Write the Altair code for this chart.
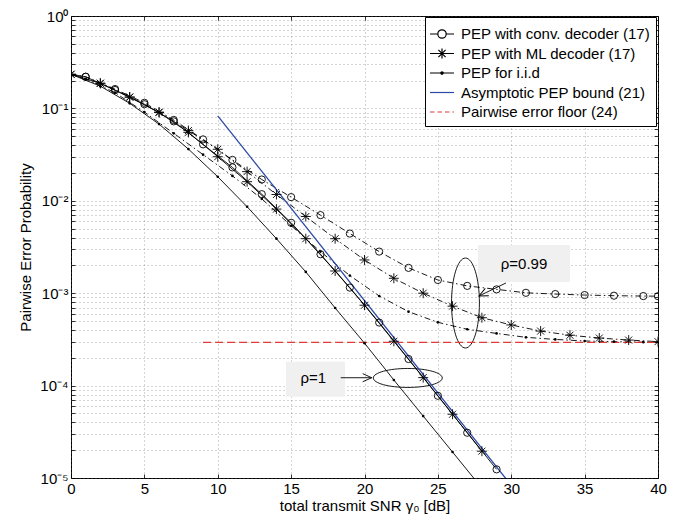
import altair as alt
import numpy as np
import pandas as pd

FONT = "Liberation Sans"
BLUE = "#2b4aa6"
RED = "#e03a3a"

# ---------------- values ----------------
# rho = 1 (solid curves)
conv1_x = [0, 1, 3, 5, 7, 9, 11, 13, 15, 17, 19, 21, 23, 25, 27, 29]
conv1_y = [0.234, 0.220, 0.158, 0.111, 0.0724, 0.0408, 0.0230, 0.0118, 0.00578,
           0.00264, 0.00115, 4.81e-4, 1.94e-4, 7.76e-5, 3.09e-5, 1.24e-5]
ml1_x = [0, 2, 4, 6, 8, 10, 12, 14, 16, 18, 20, 22, 24, 26, 28]
ml1_y = [0.234, 0.187, 0.132, 0.0902, 0.0550, 0.0300, 0.0161, 0.00813, 0.00389,
         0.00174, 7.41e-4, 3.02e-4, 1.22e-4, 4.90e-5, 1.95e-5]
iid1_x = [0, 2, 4, 6, 8, 10, 12, 14, 16, 18, 20, 22, 24, 26, 28]
iid1_y = [0.234, 0.174, 0.1135, 0.0676, 0.0363, 0.0182, 0.00863, 0.00389, 0.00170,
          6.92e-4, 2.88e-4, 1.15e-4, 4.68e-5, 1.91e-5, 7.76e-6]
# rho = 0.99 (dash-dot curves)
conv99_x = [0, 1, 3, 5, 7, 9, 11, 13, 15, 17, 19, 21, 23, 25, 27, 29, 31, 33, 35, 37, 39, 40]
conv99_y = [0.234, 0.220, 0.162, 0.115, 0.0750, 0.0462, 0.0277, 0.0170, 0.01096, 0.0070,
            0.00442, 0.00282, 0.00188, 0.00139, 0.00120, 0.00110, 0.00101, 9.79e-4,
            9.55e-4, 9.40e-4, 9.31e-4, 9.29e-4]
ml99_x = [0, 2, 4, 6, 8, 10, 12, 14, 16, 18, 20, 22, 24, 26, 28, 30, 32, 34, 36, 38, 40]
ml99_y = [0.234, 0.187, 0.133, 0.0912, 0.0575, 0.0361, 0.0207, 0.0117, 0.00676, 0.00389,
          0.00229, 0.00145, 0.00100, 7.24e-4, 5.43e-4, 4.53e-4, 3.89e-4, 3.51e-4,
          3.27e-4, 3.11e-4, 2.99e-4]
iid99_x = [0, 1, 3, 5, 7, 9, 11, 13, 15, 17, 19, 21, 23, 25, 27, 29, 31, 33, 35, 37, 39, 40]
iid99_y = [0.234, 0.209, 0.148, 0.0912, 0.0537, 0.0316, 0.0186, 0.0105, 0.00537, 0.00282,
           0.00155, 9.33e-4, 6.31e-4, 4.84e-4, 4.07e-4, 3.67e-4, 3.33e-4, 3.16e-4,
           3.04e-4, 2.99e-4, 2.95e-4, 2.94e-4]
bound_x = [10, 30]
bound_y = [0.0832, 8.32e-6]
floor_x = [9, 40]
floor_y = [2.94e-4, 2.94e-4]

legend_names = ["PEP with conv. decoder (17)", "PEP with ML decoder (17)", "PEP for i.i.d",
                "Asymptotic PEP bound (21)", "Pairwise error floor (24)"]

# annotations (data coordinates)
ann_labels = ["ρ=1", "ρ=0.99"]
ann_text_x = [16.51, 30.87]
ann_text_y = [1.22e-4, 2.07e-3]
box_x1 = [14.65, 27.73]
box_x2 = [18.67, 34.0]
box_y1 = [1.815e-4, 3.32e-3]
box_y2 = [7.59e-5, 1.32e-3]
ell_x = [22.95, 26.88]
ell_y = [1.21e-4, 7.83e-4]
arr_x1 = [18.38, 29.64]
arr_y1 = [1.217e-4, 1.29e-3]
arr_x2 = [20.49, 27.80]
arr_y2 = [1.217e-4, 9.33e-4]


def frame(xs, ys, name):
    return pd.DataFrame({"x": xs, "y": ys, "curve": name})


solid_df = pd.concat([frame(conv1_x, conv1_y, "conv1"), frame(ml1_x, ml1_y, "ml1"),
                      frame(iid1_x, iid1_y, "iid1")], ignore_index=True)
dashdot_df = pd.concat([frame(conv99_x, conv99_y, "conv99"), frame(ml99_x, ml99_y, "ml99"),
                        frame(iid99_x, iid99_y, "iid99")], ignore_index=True)

circ_df = pd.concat([
    frame([x for x in conv1_x if x % 2 == 1], [y for x, y in zip(conv1_x, conv1_y) if x % 2 == 1], "conv1"),
    frame([x for x in conv99_x if x % 2 == 1 or x == 40],
          [y for x, y in zip(conv99_x, conv99_y) if x % 2 == 1 or x == 40], "conv99"),
], ignore_index=True)
star_df = pd.concat([frame(ml1_x, ml1_y, "ml1"), frame(ml99_x, ml99_y, "ml99")], ignore_index=True)
dot_df = pd.concat([
    frame(iid1_x, iid1_y, "iid1"),
    frame([x for x in iid99_x if x % 2 == 1], [y for x, y in zip(iid99_x, iid99_y) if x % 2 == 1], "iid99"),
], ignore_index=True)

bound_df = frame(bound_x, bound_y, "bound")
floor_df = frame(floor_x, floor_y, "floor")

# ---------------- scales & axes ----------------
XS = alt.Scale(domain=[0, 40], nice=False, zero=False)
YS = alt.Scale(type="log", domain=[1e-5, 1], nice=False)

x_vals = list(range(0, 41, 5))
y_vals = [m * 10.0 ** e for e in range(-5, 0) for m in range(1, 10)] + [1.0]

tick_common = dict(offset=-4, tickSize=4, tickColor="black", tickWidth=0.8, domain=False)
grid_common = dict(grid=True, gridColor="#666666", gridDash=[1, 3], gridWidth=0.7, gridOpacity=0.8)

ylabel_expr = ("abs(log(datum.value)/LN10 - round(log(datum.value)/LN10)) < 0.01 ? "
               "['10⁰','10⁻¹','10⁻²','10⁻³','10⁻⁴','10⁻⁵'][-round(log(datum.value)/LN10)] : ''")

x_bottom = alt.Axis(orient="bottom", values=x_vals, labelFont=FONT, labelFontSize=15,
                    labelColor="black", labelPadding=3, labelFlush=False, labelOverlap=False,
                    title="total transmit SNR γ₀ [dB]", titleFont=FONT, titleFontSize=15,
                    titleFontWeight="normal", titleColor="black", titlePadding=2,
                    **tick_common, **grid_common)
y_left = alt.Axis(orient="left", values=y_vals, labelExpr=ylabel_expr, labelFont=FONT,
                  labelFontSize=15, labelColor="black", labelPadding=3, labelFlush=False,
                  labelOverlap=False, title="Pairwise Error Probability", titleFont=FONT,
                  titleFontSize=15, titleFontWeight="normal", titleColor="black",
                  titlePadding=6, **tick_common, **grid_common)
x_top = alt.Axis(orient="top", values=x_vals, labels=False, title=None, grid=False, **tick_common)
y_right = alt.Axis(orient="right", values=y_vals, labels=False, title=None, grid=False, **tick_common)


def XY(ax=None, ay=None):
    return dict(x=alt.X("x:Q", scale=XS, axis=ax), y=alt.Y("y:Q", scale=YS, axis=ay))


solid = alt.Chart(solid_df).mark_line(color="black", strokeWidth=0.9, clip=True).encode(
    detail="curve:N", **XY(x_bottom, y_left))
dashdot = alt.Chart(dashdot_df).mark_line(color="black", strokeWidth=0.9, strokeDash=[6, 3, 1.5, 3],
                                          clip=True).encode(detail="curve:N", **XY(x_top, y_right))
bound = alt.Chart(bound_df).mark_line(color=BLUE, strokeWidth=1.3, clip=True).encode(**XY())
floor = alt.Chart(floor_df).mark_line(color=RED, strokeWidth=1.3, strokeDash=[8, 4], clip=True).encode(**XY())

circles = alt.Chart(circ_df).mark_point(shape="circle", size=52, filled=False, color="black",
                                        strokeWidth=0.9, opacity=1, clip=True).encode(**XY())
STAR = "M-1,0L1,0M0,-1L0,1M-0.7,-0.7L0.7,0.7M-0.7,0.7L0.7,-0.7"
stars = alt.Chart(star_df).mark_point(shape=STAR, size=100, filled=False, color="black",
                                      strokeWidth=0.9, opacity=1, clip=True).encode(**XY())
dots = alt.Chart(dot_df).mark_point(shape="circle", size=7, filled=True, color="black",
                                    opacity=1, clip=True).encode(**XY())

# annotations
ann_df = pd.DataFrame({"label": ann_labels, "x": ann_text_x, "y": ann_text_y,
                       "bx1": box_x1, "bx2": box_x2, "by1": box_y1, "by2": box_y2})
boxes = alt.Chart(ann_df).mark_rect(color="#f0f0f0").encode(
    x=alt.X("bx1:Q", scale=XS, axis=None), x2="bx2:Q",
    y=alt.Y("by1:Q", scale=YS, axis=None), y2="by2:Q")
texts = alt.Chart(ann_df).mark_text(font=FONT, fontSize=15, color="black", align="center",
                                    baseline="middle").encode(text="label:N", **XY())

ell1 = alt.Chart(pd.DataFrame({"x": ell_x[:1], "y": ell_y[:1]})).mark_point(
    shape="M-1,0A1,0.275,0,1,1,1,0A1,0.275,0,1,1,-1,0", size=4761, filled=False,
    color="black", strokeWidth=0.9, opacity=1).encode(**XY())
ell2 = alt.Chart(pd.DataFrame({"x": ell_x[1:], "y": ell_y[1:]})).mark_point(
    shape="M0,-1A0.31,1,0,1,1,0,1A0.31,1,0,1,1,0,-1", size=8100, filled=False,
    color="black", strokeWidth=0.9, opacity=1).encode(**XY())

arr_df = pd.DataFrame({"x": arr_x1, "y": arr_y1, "x2": arr_x2, "y2": arr_y2})
arrows = alt.Chart(arr_df).mark_rule(color="black", strokeWidth=0.9).encode(
    x=alt.X("x:Q", scale=XS, axis=None), x2="x2:Q",
    y=alt.Y("y:Q", scale=YS, axis=None), y2="y2:Q")
HEAD = "M-1,-0.45L0,0L-1,0.45"
head1 = alt.Chart(pd.DataFrame({"x": arr_x2[:1], "y": arr_y2[:1]})).mark_point(
    shape=HEAD, size=324, angle=0, filled=False, color="black", strokeWidth=0.9,
    opacity=1).encode(**XY())
head2 = alt.Chart(pd.DataFrame({"x": arr_x2[1:], "y": arr_y2[1:]})).mark_point(
    shape=HEAD, size=324, angle=154, filled=False, color="black", strokeWidth=0.9,
    opacity=1).encode(**XY())

# legend
LEG_SHAPES = [
    "M-1.2,0L-0.42,0M0.42,0L1.2,0M0.42,0A0.42,0.42,0,1,1,-0.42,0A0.42,0.42,0,1,1,0.42,0",
    "M-1.2,0L1.2,0M0,-0.5L0,0.5M-0.36,-0.36L0.36,0.36M-0.36,0.36L0.36,-0.36",
    "M-1.2,0L1.2,0M0.12,0A0.12,0.12,0,1,1,-0.12,0A0.12,0.12,0,1,1,0.12,0",
    "M-1.2,0L1.2,0",
    "M-1.2,0L-0.75,0M-0.45,0L0,0M0.3,0L0.75,0M1.05,0L1.2,0",
]
LEG_COLORS = ["black", "black", "black", BLUE, RED]
leg_df = pd.DataFrame({"entry": legend_names, "x": [np.nan] * 5, "y": [np.nan] * 5})
LEG = alt.Legend(title=None, orient="none", legendX=354, legendY=1, labelFont=FONT,
                 labelFontSize=15, labelColor="black", labelLimit=400, symbolSize=400,
                 symbolStrokeWidth=1.2, symbolOpacity=1, padding=6, strokeColor="black",
                 fillColor="white", rowPadding=0.5, labelOffset=8, cornerRadius=0)
legend_layer = alt.Chart(leg_df).mark_point(filled=False, opacity=0).encode(
    color=alt.Color("entry:N", scale=alt.Scale(domain=legend_names, range=LEG_COLORS), legend=LEG),
    shape=alt.Shape("entry:N", scale=alt.Scale(domain=legend_names, range=LEG_SHAPES), legend=LEG),
    **XY())

chart = alt.layer(
    solid, dashdot, boxes, texts, ell1, ell2, arrows, head1, head2,
    floor, bound, circles, stars, dots, legend_layer
).resolve_scale(x="independent", y="independent").properties(
    width=587, height=462, background="white",
    autosize=alt.AutoSizeParams(type="none"),
    padding={"left": 63, "top": 8, "right": 10, "bottom": 40},
).configure_view(stroke="black", strokeWidth=1)

chart.save("out.html", embed_options={"renderer": "svg", "actions": False})
